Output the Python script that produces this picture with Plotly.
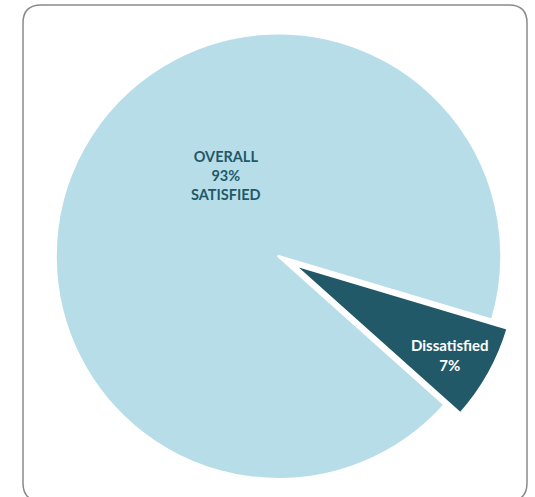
import plotly.graph_objects as go

# Data
categories = ["Dissatisfied", "Satisfied"]
values = [7, 93]
colors = ["#215968", "#B7DEE8"]
label_texts = ["Dissatisfied<br>7%", "OVERALL<br>93%<br>SATISFIED"]

W, H = 535, 497

fig = go.Figure(go.Pie(
    labels=categories,
    values=values,
    sort=False,
    direction="clockwise",
    rotation=106.6,
    pull=[0.08, 0],
    marker=dict(colors=colors, line=dict(color="white", width=2.5)),
    textinfo="none",
    hoverinfo="label+percent",
    showlegend=False,
    domain=dict(x=[0.0705, 0.9707], y=[0.0, 0.969]),
))

# Rounded border (pixel -> paper)
def px(x):
    return x / W

def py(y):
    return 1 - y / H

x0, x1, y0, y1, rr = 23, 527, 5, 501, 18
path = (
    f"M {px(x0+rr)},{py(y0)} L {px(x1-rr)},{py(y0)} "
    f"Q {px(x1)},{py(y0)} {px(x1)},{py(y0+rr)} "
    f"L {px(x1)},{py(y1-rr)} Q {px(x1)},{py(y1)} {px(x1-rr)},{py(y1)} "
    f"L {px(x0+rr)},{py(y1)} Q {px(x0)},{py(y1)} {px(x0)},{py(y1-rr)} "
    f"L {px(x0)},{py(y0+rr)} Q {px(x0)},{py(y0)} {px(x0+rr)},{py(y0)} Z"
)
fig.add_shape(type="path", path=path, xref="paper", yref="paper",
              line=dict(color="#8a8a8a", width=1.5), fillcolor="rgba(0,0,0,0)",
              layer="below")

fig.add_annotation(x=px(450), y=py(355), xref="paper", yref="paper",
                   xanchor="center", yanchor="middle",
                   text=f"<b>{label_texts[0]}</b>", showarrow=False,
                   font=dict(family="Lato, Open Sans, sans-serif", size=15, color="white"),
                   align="center")
fig.add_annotation(x=px(226), y=py(175), xref="paper", yref="paper",
                   xanchor="center", yanchor="middle",
                   text=f"<b>{label_texts[1]}</b>", showarrow=False,
                   font=dict(family="Lato, Open Sans, sans-serif", size=14.5, color="#215968"),
                   align="center")

fig.update_layout(
    width=W, height=H,
    margin=dict(l=0, r=0, t=0, b=0),
    paper_bgcolor="white",
    plot_bgcolor="white",
)

fig.write_html("out.html", config={"displayModeBar": False},
               post_script="document.body.style.margin='0px';")
